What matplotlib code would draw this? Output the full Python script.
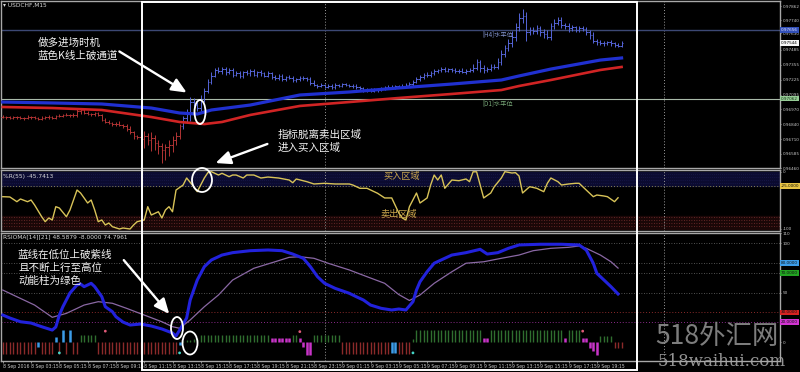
import numpy as np
import matplotlib
matplotlib.use('Agg')
import matplotlib.pyplot as plt
from matplotlib.patches import Ellipse, Rectangle, FancyArrowPatch
from matplotlib.transforms import Affine2D, blended_transform_factory
from matplotlib.collections import LineCollection

CJK = ['Noto Sans CJK SC', 'DejaVu Sans']
plt.rcParams['font.family'] = ['DejaVu Sans']

# ---------------- data ----------------
BASE = 0.97          # price base
POINT = 1e-5         # 1 point

# 15-min closes in points relative to 0.97000 (bar 0 = 8 Sep 01:15)
close_pts = [
    -95, -100, -105, -98, -102, -110, -104, -96, -100, -108,
    -112, -105, -100, -98, -104, -90, -85, -80, -78, -84,
    -80, -50, -35, -60, -70, -75, -65, -80, -120, -140,
    -150, -160, -155, -165, -175, -200, -230, -260, -270, -290,
    -260, -300, -280, -320, -350, -380, -360, -340, -300, -260,
    -180, -110, -60, 30, 10, -20, 60, 130, 210, 260,
    310, 300, 320, 290, 310, 270, 280, 260, 290, 280,
    300, 270, 290, 280, 260, 280, 250, 240, 260, 230,
    250, 240, 220, 230, 240, 240, 230, 200, 180, 170,
    180, 165, 175, 160, 180, 175, 185, 180, 170, 175,
    160, 150, 135, 140, 130, 140, 135, 150, 160, 165,
    160, 170, 165, 175, 180, 190, 210, 230, 250, 270,
    265, 285, 300, 310, 320, 305, 315, 310, 300, 305,
    295, 305, 310, 330, 380, 330, 310, 320, 340, 335,
    380, 450, 500, 540, 600, 680, 760, 780, 640, 660,
    650, 670, 640, 620, 600, 690, 720, 740, 700, 690,
    670, 680, 660, 670, 665, 640, 610, 560, 550, 545,
    540, 550, 540, 530, 520, 544]
wick_up = [
    12, 10, 14, 8, 10, 12, 9, 15, 10, 8,
    10, 12, 8, 14, 10, 12, 10, 8, 12, 10,
    14, 25, 15, 10, 12, 8, 10, 14, 10, 12,
    15, 10, 12, 20, 10, 15, 20, 12, 10, 25,
    40, 20, 50, 30, 20, 25, 30, 40, 40, 30,
    20, 25, 30, 45, 40, 20, 30, 25, 20, 30,
    20, 25, 15, 20, 18, 15, 20, 25, 15, 20,
    15, 20, 12, 18, 15, 20, 12, 15, 18, 14,
    12, 15, 20, 12, 15, 14, 12, 15, 20, 12,
    14, 12, 15, 10, 14, 12, 10, 15, 12, 10,
    12, 15, 10, 12, 14, 10, 15, 12, 10, 14,
    12, 10, 14, 12, 15, 20, 15, 18, 20, 15,
    20, 15, 18, 12, 15, 20, 15, 12, 18, 15,
    20, 15, 20, 30, 25, 20, 25, 15, 20, 25,
    30, 35, 30, 40, 45, 40, 45, 60, 30, 25,
    25, 30, 20, 25, 40, 30, 35, 30, 25, 20,
    25, 20, 15, 20, 25, 15, 20, 25, 15, 20,
    15, 15, 20, 15, 12, 15]
wick_dn = [
    10, 12, 8, 14, 10, 9, 12, 10, 14, 10,
    12, 8, 10, 12, 10, 14, 10, 12, 8, 10,
    12, 15, 20, 10, 12, 14, 10, 12, 15, 12,
    10, 14, 12, 10, 15, 20, 15, 25, 20, 60,
    80, 40, 90, 60, 70, 120, 90, 80, 60, 40,
    30, 25, 40, 70, 30, 30, 25, 30, 20, 25,
    15, 20, 25, 20, 15, 20, 15, 18, 20, 15,
    20, 15, 18, 20, 15, 12, 20, 15, 14, 18,
    15, 12, 14, 15, 12, 14, 15, 20, 12, 15,
    12, 14, 10, 15, 12, 10, 14, 12, 10, 15,
    12, 10, 15, 12, 10, 14, 12, 10, 12, 15,
    10, 12, 14, 10, 12, 15, 20, 12, 15, 20,
    15, 20, 15, 18, 20, 15, 12, 20, 15, 18,
    15, 20, 12, 15, 20, 40, 25, 20, 15, 20,
    20, 25, 30, 25, 30, 35, 30, 40, 80, 30,
    25, 30, 35, 30, 25, 30, 25, 20, 30, 25,
    30, 25, 20, 25, 20, 30, 35, 20, 25, 20,
    20, 15, 20, 20, 15, 12]

# moving-average channel (bar index, points)
blue_ma_idx = [0, 14, 28, 42, 50, 55, 59, 70, 84, 98, 112, 127, 141, 146, 155, 169, 175]
blue_ma_pts = [32, 24, 15, -20, -63, -72, -37, 6, 93, 119, 154, 188, 223, 258, 318, 396, 414]
red_ma_idx = [0, 14, 28, 42, 50, 57, 62, 70, 84, 98, 112, 127, 141, 146, 155, 169, 175]
red_ma_pts = [-11, -20, -37, -98, -141, -159, -141, -80, -2, 32, 67, 102, 136, 171, 223, 310, 336]

level_h4 = 0.97656
level_d1 = 0.97062
last_price = 0.97544
price_ticks = [0.97862, 0.97740, 0.97630, 0.97485, 0.97355, 0.97225, 0.97095,
               0.96970, 0.96840, 0.96710, 0.96585, 0.96460]

# Williams %R(55)
wpr_idx = [0, 2, 4, 5, 7, 8, 9, 11, 12, 13, 14, 15, 16, 18, 19, 21, 22, 23, 24, 25,
           26, 27, 28, 29, 30, 31, 33, 34, 36, 37, 38, 40, 41, 42, 44, 45, 46, 47, 48, 49,
           51, 52, 54, 55, 57, 58, 59, 61, 62, 64, 65, 66, 68, 69, 71, 73, 75, 78, 81, 82,
           83, 86, 88, 91, 94, 98, 99, 101, 103, 106, 108, 110, 112, 113, 114, 115, 117, 118, 120, 121,
           122, 123, 124, 125, 127, 129, 131, 132, 133, 134, 136, 138, 139, 141, 142, 144, 145, 146, 147, 149,
           151, 153, 154, 155, 157, 158, 160, 162, 163, 165, 167, 168, 170, 171, 173, 174]
wpr_val = [-43.8, -44.3, -52.5, -47.8, -52.5, -49.6, -58.3, -78.6, -87.3, -80.9, -84.3, -61.2, -63.5, -78.6, -67.0, -32.2, -37.4, -46.0, -54.8, -49.6,
           -67.0, -87.3, -84.3, -93.0, -89.6, -96.0, -100.0, -98.3, -100.0, -93.0, -87.3, -84.3, -61.2, -75.7, -70.0, -80.9, -67.0, -61.2, -70.0, -32.2,
           -23.5, -11.3, -26.4, -35.1, -11.3, -2.0, -0.3, -6.1, -3.1, -9.0, -6.1, -6.1, -11.3, -6.1, -6.1, -11.3, -9.6, -11.3, -14.8, -19.5,
           -13.0, -17.7, -21.7, -20.5, -21.7, -21.7, -23.5, -29.2, -29.2, -37.9, -46.0, -46.0, -72.2, -80.9, -84.3, -61.2, -37.4, -54.8, -46.0, -23.5,
           -6.1, -14.8, -6.1, -29.2, -14.8, -16.0, -13.0, -17.7, -0.5, -0.5, -46.0, -37.4, -26.4, -11.3, -0.3, -2.6, -2.0, -7.8, -37.4, -26.4,
           -29.2, -35.1, -20.5, -11.3, -17.7, -23.5, -21.7, -20.5, -20.5, -32.2, -43.8, -40.9, -42.6, -43.8, -52.5, -45.7]

# RSIOMA lines
rsi_idx = [0, 2, 5, 8, 11, 14, 15, 16, 17, 19, 21, 22, 23, 25, 26, 28, 29, 31, 32, 34,
           36, 39, 42, 45, 48, 49, 50, 52, 53, 55, 57, 59, 62, 65, 70, 75, 79, 82, 85, 87,
           89, 91, 94, 98, 100, 102, 104, 107, 110, 112, 114, 116, 117, 118, 120, 122, 125, 127, 131, 135,
           137, 140, 143, 146, 152, 158, 163, 165, 167, 168, 170, 172, 174]
rsi_val = [27.3, 24.3, 20.5, 19.2, 15.5, 12.1, 15.2, 27.3, 35.7, 49.6, 57.7, 58.7, 56.0, 59.4, 56.0, 45.9, 35.7, 30.7, 25.6, 20.2,
           17.2, 18.2, 16.2, 13.2, 9.1, 6.1, 12.0, 24.3, 42.5, 62.7, 76.2, 83.0, 88.0, 90.4, 92.4, 93.1, 92.4, 89.0, 84.7, 76.2,
           66.1, 59.4, 54.3, 49.3, 45.8, 42.5, 37.4, 34.1, 32.4, 33.4, 32.4, 40.8, 52.6, 61.0, 71.1, 79.7, 84.7, 88.0, 90.4, 93.8,
           89.0, 90.4, 94.8, 98.2, 98.9, 98.9, 98.2, 93.1, 79.7, 69.5, 62.8, 56.0, 48.6]
sig_idx = [0, 4, 9, 14, 18, 23, 27, 31, 35, 40, 45, 48, 50, 53, 57, 61, 65, 71, 77, 81,
           84, 88, 92, 98, 103, 108, 112, 115, 118, 122, 127, 131, 136, 141, 146, 150, 155, 160, 163, 165,
           169, 172, 174]
sig_val = [52.6, 45.8, 37.4, 25.0, 29.0, 37.4, 40.8, 39.2, 34.1, 27.3, 20.5, 15.5, 13.9, 22.3, 35.7, 47.6, 62.7, 74.6, 81.2, 85.7,
           86.3, 84.7, 79.7, 72.9, 66.1, 59.4, 48.0, 42.0, 47.6, 59.4, 71.1, 79.7, 81.2, 84.7, 88.0, 92.4, 94.8, 95.8, 97.2, 94.8,
           88.0, 81.2, 74.8]

# momentum histogram: value per bar and state (r=down, g=up, b=cross, m=weak)
hist_val = [
    -12, -12, -12, -12, -12, -12, -12, -12, -12, -12,
    -5, -12, -12, -12, -12, 5, -12, 12, -12, 12,
    -12, -12, 7, 7, 7, 7, 7, -12, -12, -12,
    -12, -12, -12, -12, -12, -12, -12, -12, -12, -12,
    -12, -12, -12, -12, -12, -12, -12, -12, -12, -12,
    -3, 1, 2, 2, 3, 4, 7, 7, 7, 7,
    7, 7, 7, 7, 7, 7, 7, 7, 7, 7,
    7, 7, 7, 7, 7, 7, 4, 4, 4, 4,
    4, 4, 7, 7, 4, -5, -13, -13, 7, 7,
    7, 7, 7, 7, 7, 7, -12, -12, -12, -12,
    -12, -12, -12, -12, -12, -12, -12, -12, -12, -12,
    -11, -11, -12, -12, -12, -12, 3, 12, 12, 12,
    12, 12, 12, 12, 12, 12, 12, 12, 12, 12,
    12, 12, 12, 12, 12, 12, 4, 4, 12, 12,
    12, 12, 12, 12, 12, 12, 12, 12, 12, 12,
    12, 12, 12, 12, 12, 12, 12, 12, 12, 4,
    12, 12, 12, 12, 4, 4, -6, -9, -13, 6,
    6, 6, 6, -6, -6, -6]
hist_kind = ("rrrrrrrrrr" "brrrrbrbrb" "rrgggggrrr" "rrrrrrrrrr" "rrrrrrrrrr"
             "bggggggggg" "gggggggggg" "ggggggmmmm" "mmggmmmmgg" "ggggggrrrr"
             "rrrrrrrrrr" "bbrrrrgggg" "gggggggggg" "ggggggmmgg" "gggggggggg"
             "gggggggggm" "ggggmmmmmg" "gggrrr")
dot_idx = [16, 29, 50, 84, 116, 164]
dot_val = [-11, 11, -11, 10.5, -11, 11]
dot_kind = "cpcpcp"

rsi_title = "RSIOMA[14][21] 48.5879 -8.0000 74.7961"
wpr_title = "%R(55) -45.7413"

tick_idx = [0, 8, 16, 24, 32, 40, 48, 56, 64, 72, 80, 88, 96, 104, 112, 120, 128, 136, 144, 152, 160, 168]
tick_lab = ["8 Sep 2016", "8 Sep 03:15", "8 Sep 05:15", "8 Sep 07:15", "8 Sep 09:15", "8 Sep 11:15",
            "8 Sep 13:15", "8 Sep 15:15", "8 Sep 17:15", "8 Sep 19:15", "8 Sep 21:15", "8 Sep 23:15",
            "9 Sep 01:15", "9 Sep 03:15", "9 Sep 05:15", "9 Sep 07:15", "9 Sep 09:15", "9 Sep 11:15",
            "9 Sep 13:15", "9 Sep 15:15", "9 Sep 17:15", "9 Sep 19:15"]
day_sep = [91, 187]

# ---------------- figure ----------------
W, H = 800, 372
fig = plt.figure(figsize=(8, 3.72), dpi=100, facecolor='black')
PX = Affine2D().scale(1 / W, -1 / H).translate(0, 1) + fig.transFigure
LBL = 3.0


def rect(top, bottom, left=1, right=780):
    return [left / W, 1 - bottom / H, (right - left) / W, (bottom - top) / H]


ax1 = fig.add_axes(rect(1, 168))
ax2 = fig.add_axes(rect(169.5, 231))
ax3 = fig.add_axes(rect(232.5, 361))
XL = (-0.5, 219.8)
for ax in (ax1, ax2, ax3):
    ax.set_facecolor('black')
    ax.set_xlim(*XL)
    for s in ax.spines.values():
        s.set_color('#a8a8a8')
        s.set_linewidth(1.0)
    ax.yaxis.tick_right()
    ax.tick_params(axis='y', labelsize=LBL, colors='#c8c8c8', length=1, pad=0.8, width=0.5)
    for d in day_sep:
        ax.axvline(d, color='#9a9a9a', ls=(0, (1, 2)), lw=0.7, zorder=1)
for ax in (ax1, ax2):
    ax.set_xticks([])

# ---- price panel ----
c = np.array(close_pts, float)
o = np.r_[c[0], c[:-1]]
hi = np.maximum(o, c) + np.array(wick_up)
lo = np.minimum(o, c) - np.array(wick_dn)
idx = np.arange(len(c))
red_at = np.interp(idx, red_ma_idx, red_ma_pts)
bull = c > red_at
to_p = lambda v: BASE + np.asarray(v, float) * POINT
segs, cols = [], []
for i in idx:
    col = '#5565d8' if bull[i] else '#b23434'
    segs += [[(i, to_p(lo[i])), (i, to_p(hi[i]))],
             [(i - 0.45, to_p(o[i])), (i, to_p(o[i]))],
             [(i, to_p(c[i])), (i + 0.45, to_p(c[i]))]]
    cols += [col] * 3
ax1.add_collection(LineCollection(segs, colors=cols, linewidths=0.7, zorder=3))
ax1.plot(red_ma_idx, to_p(red_ma_pts), color='#d02424', lw=1.9, zorder=4)
ax1.plot(blue_ma_idx, to_p(blue_ma_pts), color='#2030d0', lw=2.3, zorder=4)
ax1.axhline(level_h4, color='#3c4874', lw=1.0, zorder=2)
ax1.axhline(level_d1, color='#a9baa9', lw=0.8, zorder=2)
ax1.set_ylim(BASE - 540 * POINT, BASE + 908 * POINT)
ax1.set_yticks(price_ticks)
ax1.set_yticklabels([f"{t:.5f}" for t in price_ticks])
ax1.text(0.003, 0.99, "\u25BE USDCHF,M15", transform=ax1.transAxes, va='top', ha='left',
         fontsize=4.2, color='#d8d8d8')
ax1.text(135.5, level_h4 - 0.00003, "[H4]水平位", va='top', ha='left', fontsize=4.5,
         color='#8595d0', family=CJK)
ax1.text(135.5, level_d1 - 0.00003, "[D1]水平位", va='top', ha='left', fontsize=4.5,
         color='#78a878', family=CJK)

bt1 = blended_transform_factory(ax1.transAxes, ax1.transData)
for val, fc, tc in [(level_h4, '#3250b8', '#e0e0ff'), (last_price, '#f4f4f4', '#000000'),
                    (level_d1, '#96cc96', '#103010')]:
    ax1.text(1.0015, val, f"{val:.5f}", transform=bt1, va='center', ha='left', fontsize=LBL,
             color=tc, bbox=dict(boxstyle='square,pad=0.2', fc=fc, ec='none'), clip_on=False, zorder=6)

# ---- WPR panel ----
ax2.set_ylim(-103.5, 3.5)
ax2.axhspan(-25, 0, color='#0b0b30', zorder=0)
ax2.axhspan(-100, -78, color='#1a0707', zorder=0)
for lv in (-5, -10, -15, -20):
    ax2.axhline(lv, color='#1e1e58', ls=(0, (1, 2)), lw=0.5, zorder=1)
for lv in (-80, -85, -90, -95):
    ax2.axhline(lv, color='#7a3030', ls=(0, (1, 2)), lw=0.6, zorder=1)
ax2.axhline(-25, color='#8a8650', ls=(0, (1, 2)), lw=0.7, zorder=1)
ax2.plot(wpr_idx, wpr_val, color='#d8c358', lw=1.0, zorder=3)
ax2.set_yticks([0, -100])
ax2.set_yticklabels(["0", "-100"])
ax2.text(0.003, 0.93, wpr_title, transform=ax2.transAxes, va='top', ha='left', fontsize=4.2,
         color='#d8d8d8', zorder=5)
bt2 = blended_transform_factory(ax2.transAxes, ax2.transData)
ax2.text(1.0015, -25, "-25.0000", transform=bt2, va='center', ha='left', fontsize=LBL, color='#101000',
         bbox=dict(boxstyle='square,pad=0.2', fc='#e8c444', ec='none'), clip_on=False, zorder=6)
fig.text(383, 176, "买入区域", transform=PX, va='center', ha='left', fontsize=6.6,
         color='#c9a54c', family=CJK)
fig.text(380, 214, "卖出区域", transform=PX, va='center', ha='left', fontsize=6.6,
         color='#c9a54c', family=CJK)

# ---- RSIOMA panel ----
ax3.set_ylim(-19.2, 110.8)
for lv in (100, 80, 70, 50):
    ax3.axhline(lv, color='#6c6c6c', ls=(0, (1, 2)), lw=0.6, zorder=1)
ax3.axhline(30, color='#8a2a2a', ls=(0, (1, 2)), lw=0.7, zorder=1)
ax3.axhline(20, color='#8a2a8a', ls=(0, (1, 2)), lw=0.7, zorder=1)
kc = {'r': '#8c2a2a', 'g': '#2f6e2f', 'b': '#3c9ce8', 'm': '#c834c8'}
hs = [[(i, 0), (i, v)] for i, v in enumerate(hist_val)]
hc = [kc[k] for k in hist_kind]
hw = [1.8 if k in 'mb' else 1.0 for k in hist_kind]
ax3.add_collection(LineCollection(hs, colors=hc, linewidths=hw, zorder=2))
dc = {'c': '#45d6c8', 'p': '#e05a78'}
ax3.scatter(dot_idx, dot_val, s=4, c=[dc[k] for k in dot_kind], zorder=3, linewidths=0)
ax3.plot(sig_idx, sig_val, color='#8a68a4', lw=0.9, zorder=3)
ax3.plot(rsi_idx, rsi_val, color='#2222dc', lw=2.2, zorder=4)
ax3.set_yticks([110, 100, 50, 0])
ax3.set_yticklabels(["110", "100", "50", "0"])
ax3.text(0.003, 0.985, rsi_title, transform=ax3.transAxes, va='top', ha='left', fontsize=4.2,
         color='#d8d8d8')
bt3 = blended_transform_factory(ax3.transAxes, ax3.transData)
for val, fc in [(80, '#3c9ce8'), (70, '#22a422'), (30, '#d42222'), (20, '#d234d2')]:
    ax3.text(1.0015, val, f"{val:.4f}", transform=bt3, va='center', ha='left', fontsize=LBL,
             color='#101010', bbox=dict(boxstyle='square,pad=0.2', fc=fc, ec='none'),
             clip_on=False, zorder=6)
ax3.set_xticks(tick_idx)
ax3.set_xticklabels(tick_lab, ha='left')
ax3.tick_params(axis='x', labelsize=3.3, colors='#c8c8c8', length=1.5, pad=1, width=0.5)

# ---- annotations ----
fig.add_artist(Rectangle((141.5, 2), 495.5, 368, transform=PX, fill=False, ec='white', lw=1.4, zorder=10))
for (cx, cy, w, h) in [(200, 112, 11, 24), (202, 180, 20, 24), (177, 328, 12, 22), (190, 343, 15, 23)]:
    fig.add_artist(Ellipse((cx, cy), w, h, transform=PX, fill=False, ec='white', lw=1.3, zorder=11))
for (a, b) in [((117, 50), (189, 94)), ((270, 143), (213, 164)), ((122, 258), (171, 316))]:
    fig.add_artist(FancyArrowPatch(a, b, transform=PX, arrowstyle='-|>,head_length=0.9,head_width=0.4',
                                   mutation_scale=10, color='white', lw=1.7, zorder=11))
txt = dict(transform=PX, va='top', ha='left', fontsize=7.6, color='#f2f2f2', family=CJK,
           linespacing=1.3, zorder=12)
fig.text(38, 38, "做多进场时机\n蓝色K线上破通道", **txt)
fig.text(278, 130, "指标脱离卖出区域\n进入买入区域", **txt)
fig.text(18, 250, "蓝线在低位上破紫线\n且不断上行至高位\n动能柱为绿色", **txt)

# watermark
fig.text(655, 336, "518外汇网", transform=PX, va='center', ha='left', fontsize=19, style='italic',
         color='#8c8c8c', family=CJK, alpha=0.9, zorder=12)
fig.text(658, 361, "518waihui.com", transform=PX, va='center', ha='left', fontsize=12,
         color='#a4a4a4', family=['DejaVu Serif'], alpha=0.9, zorder=12)

fig.savefig('out.png', dpi=100, facecolor='black')
